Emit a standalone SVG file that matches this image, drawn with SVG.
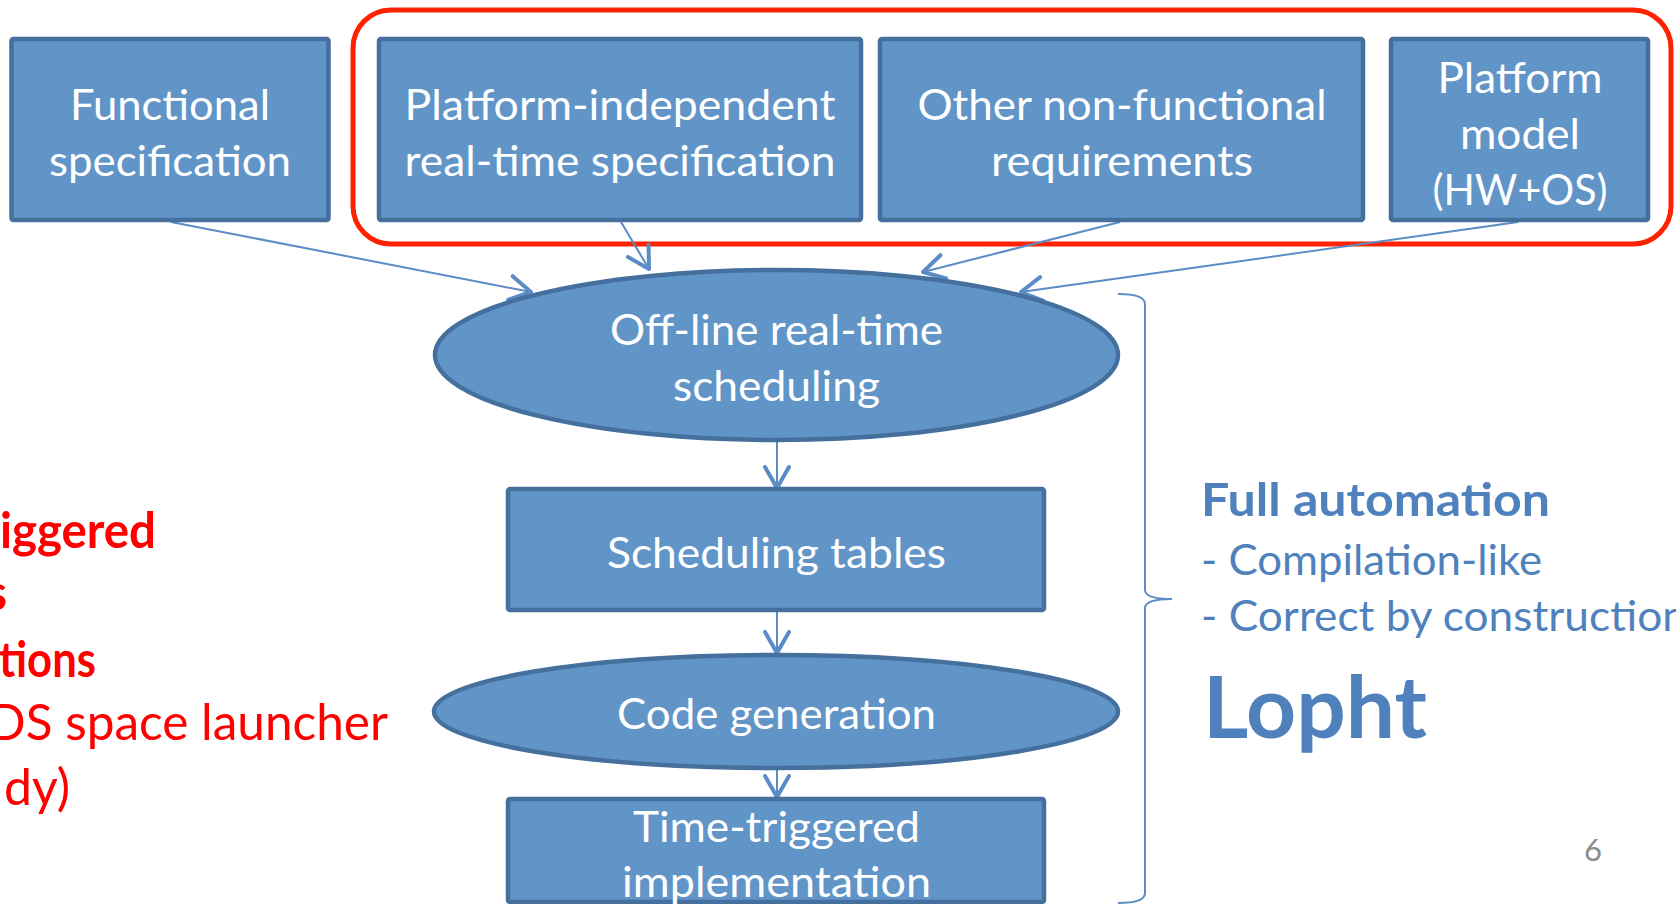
<svg xmlns="http://www.w3.org/2000/svg" width="1676" height="904" viewBox="0 0 1676 904">
  <defs>
    <style>
      .box { fill: #6195C8; stroke: #45709E; stroke-width: 4.5; }
      .lbl { font-family: Lato, "Liberation Sans", sans-serif; font-size: 42px; fill: #FFFFFF; text-anchor: middle; }
      .edge { fill: none; stroke: #5B8CC6; stroke-width: 2; }
      .red { font-family: Lato, "Liberation Sans", sans-serif; fill: #FF0000; }
      .blue { font-family: Lato, "Liberation Sans", sans-serif; fill: #4F81BD; }
    </style>
    <marker id="head" markerUnits="userSpaceOnUse" viewBox="-26 -14 30 28" markerWidth="30" markerHeight="28" refX="0" refY="0" orient="auto">
      <path d="M -21,-12 L 0,0 L -21,12" fill="none" stroke="#5B8CC6" stroke-width="4" stroke-linecap="round" stroke-linejoin="round"/>
    </marker>
  </defs>

  <rect width="1676" height="904" fill="#FFFFFF"/>

  <!-- outline grouping the inputs that describe the real-time side -->
  <rect id="inputs-frame" x="353" y="10" width="1318" height="234" rx="38" ry="38" fill="none" stroke="#FF2200" stroke-width="5"/>

  <!-- connectors -->
  <g id="connectors">
    <line class="edge" x1="171" y1="222" x2="531" y2="292" marker-end="url(#head)"/>
    <line class="edge" x1="621" y1="222" x2="649" y2="269" marker-end="url(#head)"/>
    <line class="edge" x1="1120" y1="222" x2="923" y2="272" marker-end="url(#head)"/>
    <line class="edge" x1="1518" y1="222" x2="1021" y2="292" marker-end="url(#head)"/>
    <line class="edge" x1="777" y1="442" x2="777" y2="488" marker-end="url(#head)"/>
    <line class="edge" x1="777" y1="612" x2="777" y2="653" marker-end="url(#head)"/>
    <line class="edge" x1="777" y1="748" x2="777" y2="797" marker-end="url(#head)"/>
  </g>

  <g id="functional-spec">
    <rect class="box" x="11.5" y="39" width="317" height="181" rx="2"/>
    <text class="lbl" x="170" y="120" textLength="200" lengthAdjust="spacingAndGlyphs">Functional</text>
    <text class="lbl" x="170" y="176" textLength="242" lengthAdjust="spacingAndGlyphs">specification</text>
  </g>

  <g id="rt-spec">
    <rect class="box" x="379" y="39" width="482" height="181" rx="2"/>
    <text class="lbl" x="620" y="120" textLength="431" lengthAdjust="spacingAndGlyphs">Platform-independent</text>
    <text class="lbl" x="620" y="176" textLength="431" lengthAdjust="spacingAndGlyphs">real-time specification</text>
  </g>

  <g id="nonfunctional-req">
    <rect class="box" x="880" y="39" width="483" height="181" rx="2"/>
    <text class="lbl" x="1122" y="120" textLength="409" lengthAdjust="spacingAndGlyphs">Other non-functional</text>
    <text class="lbl" x="1122" y="176" textLength="262" lengthAdjust="spacingAndGlyphs">requirements</text>
  </g>

  <g id="platform-model">
    <rect class="box" x="1391" y="39" width="257" height="181" rx="2"/>
    <text class="lbl" x="1520" y="93" textLength="165" lengthAdjust="spacingAndGlyphs">Platform</text>
    <text class="lbl" x="1520" y="149" textLength="120" lengthAdjust="spacingAndGlyphs">model</text>
    <text class="lbl" x="1520" y="205" textLength="175" lengthAdjust="spacingAndGlyphs">(HW+OS)</text>
  </g>

  <g id="offline-scheduling">
    <ellipse class="box" cx="776.5" cy="355" rx="341.5" ry="85"/>
    <text class="lbl" x="776.5" y="345" textLength="333" lengthAdjust="spacingAndGlyphs">Off-line real-time</text>
    <text class="lbl" x="776.5" y="401" textLength="207" lengthAdjust="spacingAndGlyphs">scheduling</text>
  </g>

  <g id="scheduling-tables">
    <rect class="box" x="508" y="489" width="536" height="121" rx="2"/>
    <text class="lbl" x="776.5" y="568" textLength="339" lengthAdjust="spacingAndGlyphs">Scheduling tables</text>
  </g>

  <g id="code-generation">
    <ellipse class="box" cx="776" cy="711.5" rx="342" ry="56.5"/>
    <text class="lbl" x="776.5" y="729" textLength="319" lengthAdjust="spacingAndGlyphs">Code generation</text>
  </g>

  <g id="tt-implementation">
    <rect class="box" x="508" y="799" width="536" height="103" rx="2"/>
    <text class="lbl" x="776.5" y="842" textLength="287" lengthAdjust="spacingAndGlyphs">Time-triggered</text>
    <text class="lbl" x="776.5" y="897" textLength="309" lengthAdjust="spacingAndGlyphs">implementation</text>
  </g>

  <!-- brace spanning the automated flow -->
  <path id="flow-brace" d="M 1118,294 Q 1145,294 1145,304 L 1145,590 Q 1145,599 1172,599 Q 1145,599 1145,608 L 1145,893 Q 1145,903 1118,903" fill="none" stroke="#5B8CC6" stroke-width="2"/>

  <g id="automation-notes">
    <text class="blue" x="1201" y="516" font-size="46" font-weight="bold" textLength="349" lengthAdjust="spacingAndGlyphs">Full automation</text>
    <text class="blue" x="1201" y="575" font-size="42" textLength="341" lengthAdjust="spacingAndGlyphs">- Compilation-like</text>
    <text class="blue" x="1201" y="631" font-size="42" textLength="486" lengthAdjust="spacingAndGlyphs">- Correct by construction</text>
    <text class="blue" x="1203" y="738" font-size="86" font-weight="bold" textLength="224" lengthAdjust="spacingAndGlyphs">Lopht</text>
  </g>

  <g id="side-notes">
    <text class="red" x="0" y="548" font-size="50" font-weight="bold" textLength="156" lengthAdjust="spacingAndGlyphs">iggered</text>
    <text class="red" x="-14" y="610" font-size="50" font-weight="bold" textLength="21" lengthAdjust="spacingAndGlyphs">s</text>
    <text class="red" x="-1" y="677" font-size="50" font-weight="bold" textLength="97" lengthAdjust="spacingAndGlyphs">tions</text>
    <text class="red" x="-12" y="740" font-size="50" textLength="400" lengthAdjust="spacingAndGlyphs">DS space launcher</text>
    <text class="red" x="4" y="805" font-size="50" textLength="66" lengthAdjust="spacingAndGlyphs">dy)</text>
  </g>

  <text id="page-number" x="1584" y="861" font-family="Lato, 'Liberation Sans', sans-serif" font-size="31" fill="#8C8C8C">6</text>
</svg>
